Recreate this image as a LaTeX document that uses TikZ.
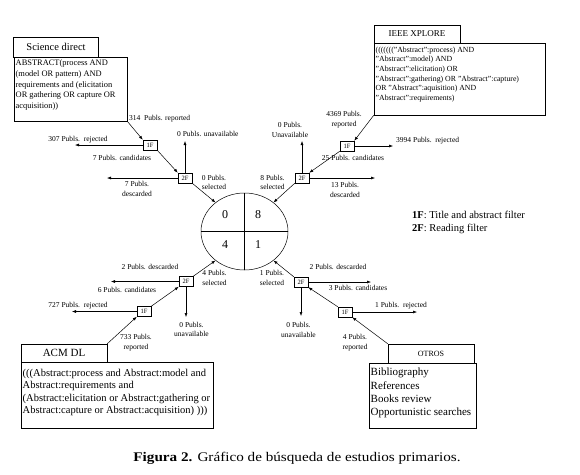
\documentclass[tikz,border=0pt]{standalone}
\usepackage{fontspec}
\setmainfont{Liberation Serif}
\newfontfamily\capfont[FakeStretch=1.15]{Liberation Serif}
\usetikzlibrary{arrows.meta,shapes.geometric}
\begin{document}
\begin{tikzpicture}[x=1pt,y=-1pt,
  lbl/.style={font=\fontsize{7.5}{9.5}\selectfont, inner sep=0pt, align=center},
  fbox/.style={draw, line width=0.5pt, minimum width=14pt, minimum height=10pt, inner sep=0pt, font=\fontsize{6.5}{7}\selectfont},
  arr/.style={-{Latex[length=4pt,width=3pt]}, line width=0.5pt},
  tbox/.style={draw, inner sep=0pt, line width=0.5pt},
  btext/.style={anchor=north west, inner sep=0pt, align=left},
  num/.style={font=\fontsize{12}{13}\selectfont, inner sep=0pt},
]
\useasboundingbox (0,0) rectangle (580,474);

% ---------- central circle ----------
\node[draw, ellipse, line width=0.5pt, minimum width=87pt, minimum height=77pt, inner sep=0pt] (c) at (244.5,231.5) {};
\draw[line width=0.5pt] (c.north) -- (c.south);
\draw[line width=0.5pt] (c.west) -- (c.east);
\node[num] (n0) at (225,215) {0};
\node[num] (n8) at (258,215) {8};
\node[num] (n4) at (225,245) {4};
\node[num] (n1) at (258,245) {1};

% ---------- Science direct ----------
\node[tbox, minimum width=85pt, minimum height=20pt, font=\fontsize{10.5}{12}\selectfont] (sdt) at (56,47) {Science direct};
\node[tbox, minimum width=113pt, minimum height=64pt] (sdb) at (70.5,89) {};
\node[btext, font=\fontsize{8.4}{10.8}\selectfont] (sdx) at (15.5,59.5) {ABSTRACT(process AND\\(model OR pattern) AND\\requirements and (elicitation\\OR gathering OR capture OR\\acquisition))};
\node[fbox] (f1a) at (150,145) {1F};
\node[fbox] (f2a) at (185,178) {2F};
\draw[arr] (sdb.south east) -- (f1a.north west);
\node[lbl, anchor=west] (l314) at (129,119) {314\ \ Publs. reported};
\coordinate (e307) at (75,145);
\draw[arr] (f1a.west) -- (e307);
\node[lbl] (l307) at (78,139.5) {307 Publs.\ \ rejected};
\node[lbl] (l7c) at (122,157.5) {7 Publs. candidates};
\draw[arr] (f1a.south east) -- (f2a.north west);
\coordinate (ua) at (185,141);
\draw[arr] (f2a.north) -- (ua);
\node[lbl, anchor=west] (lua) at (177,134) {0 Publs. unavailable};
\coordinate (da) at (107,178);
\draw[arr] (f2a.west) -- (da);
\node[lbl] (lda) at (137,189) {7 Publs.\\descarded};
\node[lbl] (lsa) at (214,182.5) {0 Publs.\\selected};
\draw[arr] (f2a.south east) -- (c.135);

% ---------- IEEE XPLORE ----------
\node[tbox, minimum width=86pt, minimum height=18pt, font=\fontsize{9}{10}\selectfont] (iet) at (417,34) {IEEE XPLORE};
\node[tbox, minimum width=171pt, minimum height=72pt] (ieb) at (459.5,79) {};
\node[btext, font=\fontsize{7.8}{9.7}\selectfont] (iex) at (375.5,46.5) {((((((("Abstract":process) AND\\"Abstract":model) AND\\"Abstract":elicitation) OR\\"Abstract":gathering) OR "Abstract":capture)\\OR "Abstract":aquisition) AND\\"Abstract":requirements)};
\node[fbox] (f1b) at (347,146) {1F};
\node[fbox] (f2b) at (302,178) {2F};
\draw[arr] (ieb.south west) -- (f1b.north east);
\node[lbl] (l4369) at (344,119.5) {4369 Publs.\\reported};
\coordinate (eb) at (393,146);
\draw[arr] (f1b.east) -- (eb);
\node[lbl, anchor=west] (l3994) at (396,141) {3994 Publs.\ \ rejected};
\node[lbl] (l25c) at (353,158) {25 Publs. candidates};
\draw[arr] (f1b.south west) -- (f2b.north east);
\coordinate (ub) at (302,141);
\draw[arr] (f2b.north) -- (ub);
\node[lbl] (lub) at (290,130) {0 Publs.\\Unavailable};
\coordinate (db) at (375,178);
\draw[arr] (f2b.east) -- (db);
\node[lbl] (ldb) at (345,190) {13 Publs.\\descarded};
\node[lbl] (lsb) at (272.5,182.5) {8 Publs.\\selected};
\draw[arr] (f2b.south west) -- (c.45);

% ---------- ACM DL ----------
\node[tbox, minimum width=86pt, minimum height=18pt, font=\fontsize{11}{12}\selectfont] (act) at (64,353) {ACM DL};
\node[tbox, minimum width=192pt, minimum height=66pt] (acb) at (117,395) {};
\node[btext, font=\fontsize{10.5}{12.3}\selectfont] (acx) at (22.5,369) {(((Abstract:process and Abstract:model and\\Abstract:requirements and\\(Abstract:elicitation or Abstract:gathering or\\Abstract:capture or Abstract:acquisition) )))};
\node[fbox] (f1c) at (144,311.5) {1F};
\node[fbox] (f2c) at (186,281.5) {2F};
\draw[arr] (act.north east) -- (f1c.south west);
\node[lbl] (l733) at (136,342.5) {733 Publs.\\reported};
\coordinate (ec) at (72,311.5);
\draw[arr] (f1c.west) -- (ec);
\node[lbl] (l727) at (78,305.5) {727 Publs.\ \ rejected};
\draw[arr] (f1c.north east) -- (f2c.south west);
\coordinate (dc) at (111,281.5);
\draw[arr] (f2c.west) -- (dc);
\node[lbl] (ldc) at (150,267) {2 Publs. descarded};
\node[lbl] (l6c) at (127,290) {6 Publs. candidates};
\coordinate (uc) at (186,317);
\draw[arr] (f2c.south) -- (uc);
\node[lbl] (luc) at (191.5,329.5) {0 Publs.\\unavailable};
\node[lbl] (lsc) at (214.5,278) {4 Publs.\\selected};
\draw[arr] (f2c.north east) -- (c.225);

% ---------- OTROS ----------
\node[tbox, minimum width=86pt, minimum height=19pt, font=\fontsize{8}{9}\selectfont] (ott) at (431,353.5) {OTROS};
\node[tbox, minimum width=107pt, minimum height=65pt] (otb) at (422.5,395.5) {};
\node[btext, font=\fontsize{11}{13.3}\selectfont] (otx) at (370.5,368) {Bibliography\\References\\Books review\\Opportunistic searches};
\node[fbox] (f1d) at (345,312) {1F};
\node[fbox] (f2d) at (301,282) {2F};
\draw[arr] (ott.north west) -- (f1d.south east);
\node[lbl] (l4r) at (355,342.5) {4 Publs.\\reported};
\coordinate (ed) at (417,312);
\draw[arr] (f1d.east) -- (ed);
\node[lbl] (l1r) at (401,306) {1 Publs.\ \ rejected};
\draw[arr] (f1d.north west) -- (f2d.south east);
\coordinate (dd) at (371,282);
\draw[arr] (f2d.east) -- (dd);
\node[lbl] (ldd) at (338,267) {2 Publs. descarded};
\node[lbl] (l3c) at (358,288) {3 Publs. candidates};
\coordinate (ud) at (301,316);
\draw[arr] (f2d.south) -- (ud);
\node[lbl] (lud) at (298.5,330) {0 Publs.\\unavailable};
\node[lbl] (lsd) at (272,278) {1 Publs.\\selected};
\draw[arr] (f2d.north west) -- (c.315);

% ---------- legend ----------
\node[anchor=west, inner sep=0pt, font=\fontsize{10.5}{12}\selectfont] (lg1) at (412,215) {\textbf{1F}: Title and abstract filter};
\node[anchor=west, inner sep=0pt, font=\fontsize{10.5}{12}\selectfont] (lg2) at (412,229) {\textbf{2F}: Reading filter};

% ---------- caption ----------
\node[inner sep=0pt, font=\capfont\fontsize{13.2}{15}\selectfont] (cap) at (297,458) {\textbf{Figura 2.} Gráfico de búsqueda de estudios primarios.};
\end{tikzpicture}
\end{document}
